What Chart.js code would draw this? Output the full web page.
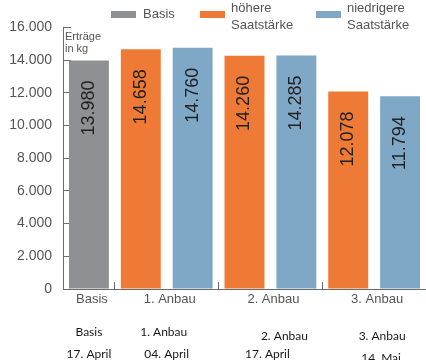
<!DOCTYPE html>
<html>
<head>
<meta charset="utf-8">
<script src="https://cdn.jsdelivr.net/npm/chart.js@4/dist/chart.umd.min.js"></script>
<style>
  html, body { margin: 0; padding: 0; background: #fff; overflow: hidden; }
  #wrap { width: 426px; height: 360px; position: relative; }
</style>
</head>
<body>
<div id="wrap"><canvas id="c"></canvas></div>
<script>
// Erträge in kg je Anbau
const categories = ['Basis', '1. Anbau', '2. Anbau', '3. Anbau'];
const sowingDates = ['17. April', '04. April', '17. April', '14. Mai'];
const basisYield = [13980];
const higherDensity = [14658, 14260, 12078];
const lowerDensity = [14760, 14285, 11794];
const yTicks = [0, 2000, 4000, 6000, 8000, 10000, 12000, 14000, 16000];
const seriesNames = [['Basis'], ['höhere', 'Saatstärke'], ['niedrigere', 'Saatstärke']];
const seriesColors = ['#8f9094', '#ee7a35', '#7fa8c6'];

// German thousands separator
const fmt = v => String(v).replace(/\B(?=(\d{3})+(?!\d))/g, '.');

// one bar slot for Basis, two slots (höher / niedriger) for each Anbau
const slotGroup = [0];
const basisData = [basisYield[0]];
const higherData = [null];
const lowerData = [null];
for (let i = 0; i < higherDensity.length; i++) {
  slotGroup.push(i + 1, i + 1);
  basisData.push(null, null);
  higherData.push(higherDensity[i], null);
  lowerData.push(null, lowerDensity[i]);
}
const slotLabels = slotGroup.map(g => categories[g]);
// grid positions where a new group starts
const groupBreaks = slotGroup.map((g, i) => (i > 0 && g !== slotGroup[i - 1]) ? i : -1).filter(i => i > 0);

const AXIS = '#6b6b6b';
const TEXT = '#555555';

const decorations = {
  id: 'decorations',
  afterDatasetsDraw(chart) {
    const ctx = chart.ctx;
    // values inside the bars, rotated
    ctx.save();
    ctx.fillStyle = '#222';
    ctx.font = '18px "Liberation Sans", Arial, sans-serif';
    chart.data.datasets.forEach((ds, di) => {
      chart.getDatasetMeta(di).data.forEach((bar, i) => {
        const v = ds.data[i];
        if (v == null) return;
        ctx.save();
        ctx.translate(bar.x, bar.y + 20);
        ctx.rotate(-Math.PI / 2);
        ctx.textAlign = 'right';
        ctx.textBaseline = 'middle';
        ctx.fillText(fmt(v), 0, 0);
        ctx.restore();
      });
    });
    ctx.restore();
  },
  afterDraw(chart) {
    const ctx = chart.ctx;
    const area = chart.chartArea;
    const xs = chart.scales.x;

    // axis unit label
    ctx.save();
    ctx.fillStyle = TEXT;
    ctx.font = '11px "Liberation Sans", Arial, sans-serif';
    ctx.textAlign = 'left';
    ctx.textBaseline = 'alphabetic';
    ctx.fillText('Erträge', area.left + 2, area.top + 13);
    ctx.fillText('in kg', area.left + 2, area.top + 25);
    ctx.restore();

    // legend
    const legendPos = [[111, 143], [200, 231], [316, 347]];
    ctx.save();
    ctx.font = '13px "Liberation Sans", Arial, sans-serif';
    ctx.textBaseline = 'alphabetic';
    ctx.textAlign = 'left';
    chart.data.datasets.forEach((ds, di) => {
      const [sx, tx] = legendPos[di];
      ctx.fillStyle = ds.backgroundColor;
      ctx.fillRect(sx, 11, 25, 7);
      ctx.fillStyle = TEXT;
      const lines = seriesNames[di];
      if (lines.length === 1) {
        ctx.fillText(lines[0], tx, 18);
      } else {
        ctx.fillText(lines[0], tx, 12);
        ctx.fillText(lines[1], tx, 29);
      }
    });
    ctx.restore();

    // group labels under the axis and sowing dates below
    const nudge = [[0, 0, 0, 0], [-3, 0, 0, 0], [14, 4, -3, 0], [8, 4, 7, 4]];
    ctx.save();
    ctx.textAlign = 'center';
    ctx.textBaseline = 'alphabetic';
    categories.forEach((name, g) => {
      const idx = slotGroup.map((s, i) => s === g ? i : -1).filter(i => i >= 0);
      const cx = idx.reduce((a, i) => a + xs.getPixelForValue(i), 0) / idx.length;
      ctx.fillStyle = TEXT;
      ctx.font = '13px "Liberation Sans", Arial, sans-serif';
      ctx.fillText(name, cx + 3, area.bottom + 14);
      const n = nudge[g];
      ctx.fillStyle = '#1a1a1a';
      ctx.font = '12px Lato, "Open Sans", sans-serif';
      ctx.fillText(name, cx + n[0], 336 + n[1]);
      ctx.fillText(sowingDates[g], cx + n[2], 358 + n[3]);
    });
    ctx.restore();
  }
};

new Chart(document.getElementById('c'), {
  type: 'bar',
  data: {
    labels: slotLabels,
    datasets: [
      { label: 'Basis', data: basisData, backgroundColor: seriesColors[0] },
      { label: 'höhere Saatstärke', data: higherData, backgroundColor: seriesColors[1] },
      { label: 'niedrigere Saatstärke', data: lowerData, backgroundColor: seriesColors[2] }
    ]
  },
  options: {
    responsive: true,
    maintainAspectRatio: false,
    animation: false,
    skipNull: true,
    categoryPercentage: 1,
    barPercentage: 0.77,
    layout: { padding: { top: 23, right: 0, bottom: 0, left: 0 } },
    plugins: { legend: { display: false }, tooltip: { enabled: false } },
    scales: {
      x: {
        offset: true,
        ticks: { display: false, autoSkip: false },
        grid: {
          offset: true,
          drawOnChartArea: false,
          tickLength: -7,
          tickColor: ctx => groupBreaks.includes(ctx.index) ? AXIS : 'rgba(0,0,0,0)',
          tickWidth: 1
        },
        border: { display: true, color: AXIS, width: 1 },
        afterFit(scale) { scale.height = 71; }
      },
      y: {
        min: yTicks[0],
        max: yTicks[yTicks.length - 1],
        afterBuildTicks(scale) { scale.ticks = yTicks.map(v => ({ value: v })); },
        ticks: {
          padding: 19,
          color: TEXT,
          font: { family: '"Liberation Sans", Arial, sans-serif', size: 14 },
          callback: v => fmt(v)
        },
        grid: {
          drawOnChartArea: false,
          tickLength: -8,
          tickColor: AXIS,
          tickWidth: 1
        },
        border: { display: true, color: AXIS, width: 1 },
        afterFit(scale) { scale.width = 63; }
      }
    }
  },
  plugins: [decorations]
});
</script>
</body>
</html>
